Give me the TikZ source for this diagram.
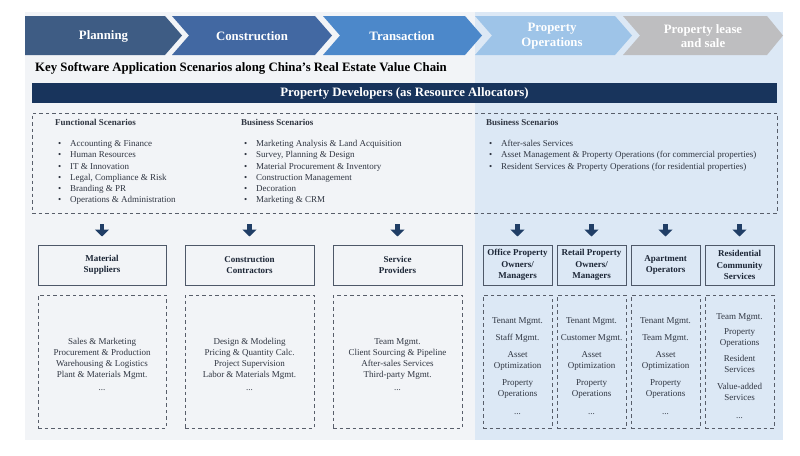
\documentclass[tikz,border=0pt]{standalone}
\usepackage{fontspec}
\setmainfont{Liberation Serif}
\usepackage{xcolor}
\usepackage{tikz}
\usetikzlibrary{arrows.meta}

\definecolor{chevA}{RGB}{62,92,132}
\definecolor{chevB}{RGB}{66,104,162}
\definecolor{chevC}{RGB}{76,136,202}
\definecolor{chevD}{RGB}{158,196,232}
\definecolor{chevE}{RGB}{190,190,192}
\definecolor{bggray}{RGB}{242,244,247}
\definecolor{bgblue}{RGB}{220,232,245}
\definecolor{navybar}{RGB}{24,52,92}
\definecolor{arrownavy}{RGB}{32,62,102}
\definecolor{boxline}{RGB}{78,88,104}
\definecolor{dashline}{RGB}{88,94,106}
\definecolor{itemtext}{RGB}{48,54,66}
\definecolor{headtext}{RGB}{28,38,54}

\newcommand{\scenbullet}{\hspace*{3pt}\makebox[12pt][l]{\textbullet}}

\begin{document}
\begin{tikzpicture}[
            x=1pt, y=-1pt,
            chev_text/.style={text=white, font=\bfseries\fontsize{12.8}{14.5}\selectfont, align=center, inner sep=0pt},
            dev_bar/.style={fill=navybar, text=white, font=\bfseries\fontsize{12.8}{14}\selectfont, minimum width=745pt, minimum height=20pt, inner sep=0pt},
            scen_box/.style={draw=dashline, line width=0.9pt, dash pattern=on 3.5pt off 3pt, inner sep=0pt},
            list_text/.style={text=itemtext, font=\fontsize{9}{11.2}\selectfont, align=left, inner sep=0pt, anchor=north west},
            role_box/.style={draw=boxline, line width=1pt, text=headtext, font=\bfseries\fontsize{9}{11.5}\selectfont, align=center, minimum height=40pt, inner sep=1pt},
            item_box/.style={draw=dashline, line width=0.9pt, dash pattern=on 3.5pt off 3pt, text=itemtext, font=\fontsize{9}{11}\selectfont, align=center, minimum height=133pt, inner sep=0pt},
            down_arrow/.style={-{Triangle[width=14pt, length=7pt]}, line width=4.5pt, arrownavy, shorten <=11pt, shorten >=8pt}
        ]

        \useasboundingbox (0,0) rectangle (800,455);

        % Backgrounds: developer side and operations side
        \fill[bggray] (25,12) rectangle (475,440);
        \fill[bgblue] (475,12) rectangle (783,440);

        % Value chain chevrons
        \fill[chevA] (25,16) -- (165,16) -- (182,35.5) -- (165,55) -- (25,55) -- cycle;
        \fill[chevB] (172,16) -- (315,16) -- (332,35.5) -- (315,55) -- (172,55) -- (189,35.5) -- cycle;
        \fill[chevC] (323,16) -- (465,16) -- (482,35.5) -- (465,55) -- (323,55) -- (340,35.5) -- cycle;
        \fill[chevD] (475,16) -- (615,16) -- (632,35.5) -- (615,55) -- (475,55) -- (492,35.5) -- cycle;
        \fill[chevE] (623,16) -- (767,16) -- (783,35.5) -- (767,55) -- (623,55) -- (640,35.5) -- cycle;

        \node[chev_text] (planning) at (103.5,36) {Planning};
        \node[chev_text] (construction) at (252,36) {Construction};
        \node[chev_text] (transaction) at (402,36) {Transaction};
        \node[chev_text] (operations) at (552,36) {Property\\Operations};
        \node[chev_text] (lease) at (703,36) {Property lease\\and sale};

        % Title
        \node[anchor=west, inner sep=0pt, text=black, font=\bfseries\fontsize{12.8}{14}\selectfont] (title) at (35,68)
            {Key Software Application Scenarios along China's Real Estate Value Chain};

        % Property developers
        \node[dev_bar] (developers) at (404.5,93) {Property Developers (as Resource Allocators)};
        \node[scen_box, minimum width=745pt, minimum height=100pt] (scen) at (404.5,163) {};

        \node[list_text] (func_list) at (55,119) {\textbf{Functional Scenarios}\\[10pt]
            \scenbullet Accounting \& Finance\\
            \scenbullet Human Resources\\
            \scenbullet IT \& Innovation\\
            \scenbullet Legal, Compliance \& Risk\\
            \scenbullet Branding \& PR\\
            \scenbullet Operations \& Administration};
        \node[list_text] (biz_list) at (241,119) {\textbf{Business Scenarios}\\[10pt]
            \scenbullet Marketing Analysis \& Land Acquisition\\
            \scenbullet Survey, Planning \& Design\\
            \scenbullet Material Procurement \& Inventory\\
            \scenbullet Construction Management\\
            \scenbullet Decoration\\
            \scenbullet Marketing \& CRM};
        \node[list_text] (ops_list) at (486,119) {\textbf{Business Scenarios}\\[10pt]
            \scenbullet After-sales Services\\
            \scenbullet Asset Management \& Property Operations (for commercial properties)\\
            \scenbullet Resident Services \& Property Operations (for residential properties)};

        % Downstream participants
        \node[role_box, minimum width=128pt] (mat) at (102,265) {Material\\Suppliers};
        \node[role_box, minimum width=129pt] (con) at (249.5,265) {Construction\\Contractors};
        \node[role_box, minimum width=129pt] (srv) at (397.5,265) {Service\\Providers};
        \node[role_box, minimum width=69pt] (off) at (517.5,265) {Office Property\\Owners/\\Managers};
        \node[role_box, minimum width=69pt] (ret) at (591.5,265) {Retail Property\\Owners/\\Managers};
        \node[role_box, minimum width=69pt] (apt) at (665.5,265) {Apartment\\Operators};
        \node[role_box, minimum width=69pt] (res) at (739.5,265) {Residential\\Community\\Services};

        \draw[down_arrow] (scen.south -| mat.north) -- (mat.north);
        \draw[down_arrow] (scen.south -| con.north) -- (con.north);
        \draw[down_arrow] (scen.south -| srv.north) -- (srv.north);
        \draw[down_arrow] (scen.south -| off.north) -- (off.north);
        \draw[down_arrow] (scen.south -| ret.north) -- (ret.north);
        \draw[down_arrow] (scen.south -| apt.north) -- (apt.north);
        \draw[down_arrow] (scen.south -| res.north) -- (res.north);

        % Software needs of each participant
        \node[item_box, minimum width=128pt] (mat_items) at (102,361.5)
            {\mbox{}\\[1.5pt]Sales \& Marketing\\Procurement \& Production\\Warehousing \& Logistics\\Plant \& Materials Mgmt.\\[2pt]...};
        \node[item_box, minimum width=129pt] (con_items) at (249.5,361.5)
            {\mbox{}\\[1.5pt]Design \& Modeling\\Pricing \& Quantity Calc.\\Project Supervision\\Labor \& Materials Mgmt.\\[2pt]...};
        \node[item_box, minimum width=129pt] (srv_items) at (397.5,361.5)
            {\mbox{}\\[1.5pt]Team Mgmt.\\Client Sourcing \& Pipeline\\After-sales Services\\Third-party Mgmt.\\[2pt]...};
        \node[item_box, minimum width=69pt] (off_items) at (517.5,361.5)
            {\mbox{}\\[3.5pt]Tenant Mgmt.\\[6pt]Staff Mgmt.\\[6pt]Asset\\Optimization\\[6pt]Property\\Operations\\[7pt]...};
        \node[item_box, minimum width=69pt] (ret_items) at (591.5,361.5)
            {\mbox{}\\[3.5pt]Tenant Mgmt.\\[6pt]Customer Mgmt.\\[6pt]Asset\\Optimization\\[6pt]Property\\Operations\\[7pt]...};
        \node[item_box, minimum width=69pt] (apt_items) at (665.5,361.5)
            {\mbox{}\\[3.5pt]Tenant Mgmt.\\[6pt]Team Mgmt.\\[6pt]Asset\\Optimization\\[6pt]Property\\Operations\\[7pt]...};
        \node[item_box, minimum width=69pt] (res_items) at (739.5,361.5)
            {\mbox{}\\[3.5pt]Team Mgmt.\\[4pt]Property\\Operations\\[5pt]Resident\\Services\\[6pt]Value-added\\Services\\[7pt]...};

    \end{tikzpicture}
\end{document}
